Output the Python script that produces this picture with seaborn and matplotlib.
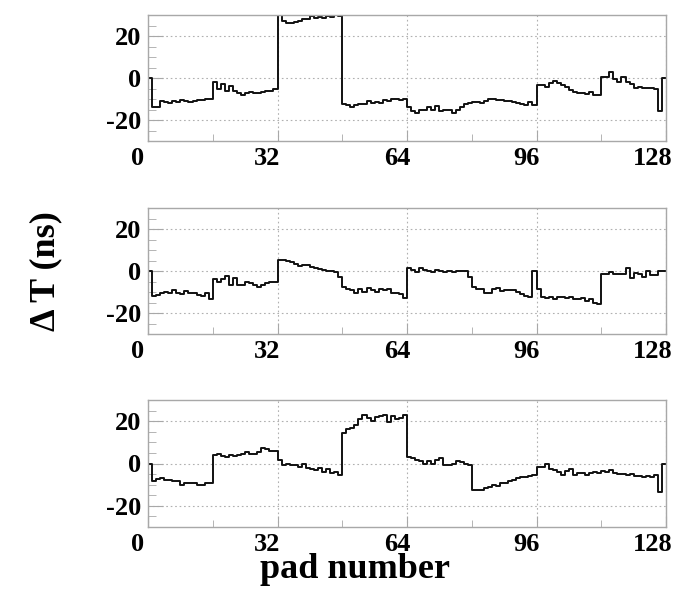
import numpy as np
import pandas as pd
import seaborn as sns
import matplotlib
matplotlib.use("Agg")
import matplotlib.pyplot as plt
from matplotlib.ticker import MultipleLocator, FixedLocator
import matplotlib.transforms as mtransforms

# ---- data: delta T (ns) per pad, 128 pads, three readout sets ----
pads = list(range(128))

dt_top = [
    0, -14, -14, -11, -11.5, -12, -11, -11.5, -10.5, -11, -11.5, -11, -10.5, -10.5, -10, -10,
    -2, -5, -3, -6, -4, -6, -7, -8, -7, -6.5, -7, -7, -6.5, -6, -6, -5,
    30, 27, 26, 26, 26.5, 27, 28, 28, 29.5, 28.5, 29, 28.5, 29.5, 29, 30, 29.5,
    -12.5, -13, -14, -13, -12.5, -12.5, -11, -12, -11.5, -12, -10.5, -11, -10, -10, -10.5, -10,
    -14, -15.5, -16.5, -15, -15, -14, -15, -13.5, -15.5, -15, -15, -16.5, -15, -14, -12.5, -12,
    -11.5, -11.5, -12, -11, -10, -10, -10.5, -10.5, -11, -11, -11.5, -12, -12.5, -13, -11.5, -13,
    -3.5, -3.5, -4.5, -2.5, -1.5, -2.5, -3.5, -4.5, -5.5, -6.5, -7, -7, -7.5, -6.5, -8, -8,
    0.3, 0.3, 2.7, -0.5, -1.7, 0.3, -1.7, -2.8, -4.9, -4.4, -4.6, -4.6, -4.9, -5.2, -15.5, 0,
]

dt_mid = [
    0, -12, -11.5, -10.5, -10, -10.5, -9, -10.5, -11, -9.5, -10.5, -10.5, -11.5, -12, -10.5, -13.5,
    -4, -5, -4, -2.5, -6.5, -3.5, -6.5, -6.5, -5, -5.5, -6.5, -7.5, -6.5, -5.5, -5, -5,
    5.3, 5.3, 5, 4.5, 3.5, 2.5, 3, 3, 2, 1.3, 1, 0.5, 0, 0, -0.5, -2.7,
    -7.5, -8.5, -9, -10.5, -8.5, -10, -8, -9, -10, -8.5, -9, -8.5, -10.5, -10.5, -11, -12.8,
    1.3, 0.5, -0.5, 1.3, 0.5, 0, -0.5, 0.5, 0, -0.5, 0, -0.5, 0, 0, 0, -3,
    -7.5, -8.5, -8.5, -10.5, -10.5, -8.5, -8, -9.5, -9, -9, -9, -10, -11, -12, -12.5, 0,
    -8.8, -12.3, -13, -12.5, -13.5, -12.3, -12.5, -13, -12.3, -13.5, -13.5, -13, -14.5, -13.5, -15, -15.5,
    -1.5, -1.5, -0.5, -1.5, -1.5, -1.5, 1.3, -3.5, -1, -1.5, -3, 0, -2, -2, 0, 0,
]

dt_bot = [
    0, -8.5, -7.5, -7, -8, -8, -8.5, -8.5, -10.2, -9, -9, -9, -10.2, -10.2, -9.3, -9.3,
    3.9, 4.7, 3.5, 3, 4.2, 3.5, 4.2, 4.5, 5.5, 4.5, 4.5, 5.5, 7.4, 6.8, 6, 5.8,
    1.6, -0.8, 0, -0.5, -0.8, -1.5, 0, -2, -2.4, -3.2, -2, -3.9, -2.7, -4.7, -3.9, -5.2,
    14.2, 16.5, 17, 18, 20.8, 22.8, 21.5, 20, 22, 22.3, 23, 19.7, 22.3, 20.8, 21.5, 22.8,
    3.1, 2.4, 1.6, 1, 0, 1, 0, 1.6, 2.4, -0.5, -0.5, 0, 1, 0.5, 0, -0.5,
    -12.6, -12.6, -12.3, -11.5, -11, -10.2, -10.5, -9.4, -9, -8.3, -7.9, -7, -6.5, -6.3, -5.7, -5.2,
    -1.6, -1.6, 0, -2.7, -3.1, -3.9, -5.2, -3.5, -2.7, -5.5, -4.3, -4.7, -5.5, -4.3, -3.9, -4.3,
    -3.5, -3.9, -3, -4.5, -5, -5, -5.5, -5, -6, -6, -6.3, -5.7, -6.3, -5.5, -13.4, 0,
]

x_ticks = [0, 32, 64, 96, 128]
y_ticks = [-20, 0, 20]

# ---- style ----
sns.set_style("ticks")
plt.rcParams["font.family"] = ["Liberation Serif", "DejaVu Serif"]
plt.rcParams["font.weight"] = "bold"
plt.rcParams["axes.unicode_minus"] = False
plt.rcParams["text.color"] = "black"
plt.rcParams["xtick.labelcolor"] = "black"
plt.rcParams["ytick.labelcolor"] = "black"

fig = plt.figure(figsize=(6.74, 5.93), dpi=100)
W, H = 674.0, 593.0
boxes = [(148, 15, 141), (148, 208, 334), (148, 400, 527)]
series = [dt_top, dt_mid, dt_bot]
frame_col = "#a8a8a8"

for (left, top, bottom), vals in zip(boxes, series):
    ax = fig.add_axes([left / W, 1 - bottom / H, (666 - left) / W, (bottom - top) / H])
    edges = list(range(129))
    yv = list(vals) + [vals[-1]]
    df = pd.DataFrame({"pad": edges, "dt": yv})
    sns.lineplot(data=df, x="pad", y="dt", ax=ax, drawstyle="steps-post",
                 color="#111111", linewidth=1.4, estimator=None, sort=False)
    ax.set_xlim(0, 128)
    ax.set_ylim(-30, 30)
    ax.set_xlabel("")
    ax.set_ylabel("")
    ax.xaxis.set_major_locator(FixedLocator(x_ticks))
    ax.xaxis.set_minor_locator(MultipleLocator(16))
    ax.yaxis.set_major_locator(FixedLocator(y_ticks))
    ax.yaxis.set_minor_locator(MultipleLocator(5))
    ax.set_xticklabels([str(t) for t in x_ticks])
    ax.set_yticklabels([str(t) for t in y_ticks])
    ax.tick_params(axis="both", which="both", direction="in", color=frame_col,
                   labelcolor="black")
    ax.tick_params(axis="x", which="major", length=8, labelsize=19, pad=4)
    ax.tick_params(axis="x", which="minor", length=5)
    ax.tick_params(axis="y", which="major", length=11, labelsize=19, pad=5)
    ax.tick_params(axis="y", which="minor", length=6)
    for lab in ax.get_xticklabels() + ax.get_yticklabels():
        lab.set_fontweight("bold")
    xlabs = ax.get_xticklabels()
    for i, lab in enumerate(xlabs):
        shift = -13 if i == len(xlabs) - 1 else -10
        off = mtransforms.ScaledTranslation(shift / 100.0, 0, fig.dpi_scale_trans)
        lab.set_transform(lab.get_transform() + off)
    ax.grid(True, which="major", linestyle=(0, (1.5, 2.5)), color="#b0b0b0", linewidth=0.8)
    for s in ax.spines.values():
        s.set_visible(True)
        s.set_color(frame_col)
        s.set_linewidth(1.0)

fig.text(46 / W, 1 - 271 / H, "\u0394 T (ns)", rotation=90, ha="center", va="center",
         fontsize=26, fontweight="bold", color="black")
fig.text(355 / W, 1 - 570 / H, "pad number", ha="center", va="center",
         fontsize=26, fontweight="bold", color="black")

fig.savefig("out.png", dpi=100)
